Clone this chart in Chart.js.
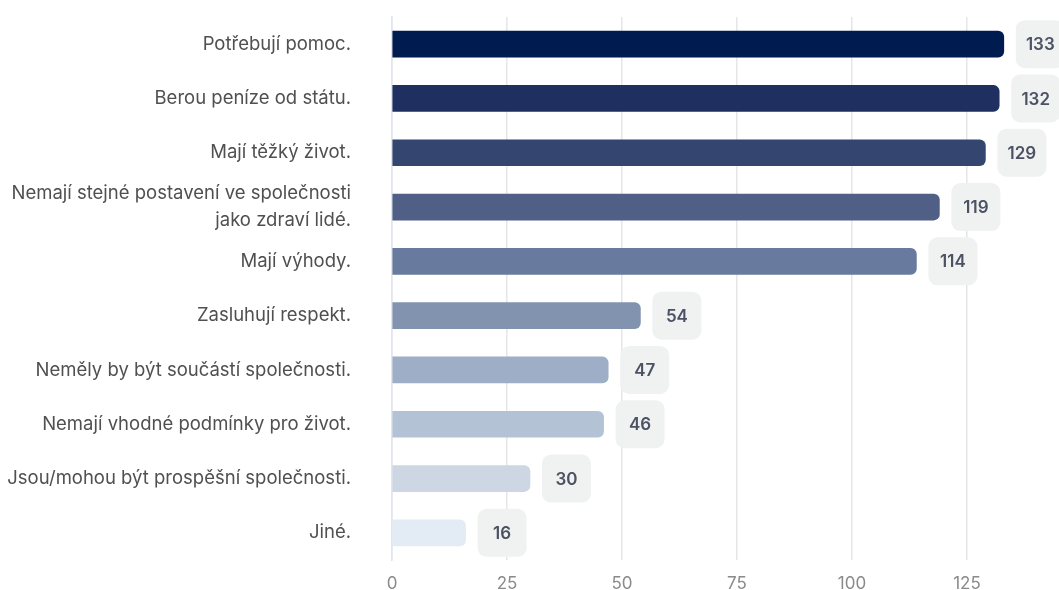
<!DOCTYPE html>
<html>
<head>
<meta charset="utf-8">
<script src="https://cdn.jsdelivr.net/npm/chart.js@4/dist/chart.umd.min.js"></script>
<style>
  body { margin: 0; background: #fff; }
  #wrap { width: 1059px; height: 590px; }
</style>
</head>
<body>
<div id="wrap"><canvas id="chart"></canvas></div>
<script>
var categories = [
  'Potřebují pomoc.',
  'Berou peníze od státu.',
  'Mají těžký život.',
  ['Nemají stejné postavení ve společnosti', 'jako zdraví lidé.'],
  'Mají výhody.',
  'Zasluhují respekt.',
  'Neměly by být součástí společnosti.',
  'Nemají vhodné podmínky pro život.',
  'Jsou/mohou být prospěšní společnosti.',
  'Jiné.'
];
var counts = [133, 132, 129, 119, 114, 54, 47, 46, 30, 16];
var barColors = ['#001b50', '#1f2f5f', '#34466f', '#4f5f86', '#687a9e', '#8293b0', '#9eaec7', '#b4c2d6', '#cdd7e3', '#e3ebf4'];
var xTicks = [0, 25, 50, 75, 100, 125];

// rounded grey boxes with the count, right of each bar
var valueBoxes = {
  id: 'valueBoxes',
  afterDatasetsDraw: function (chart) {
    var ctx = chart.ctx;
    var meta = chart.getDatasetMeta(0);
    ctx.save();
    for (let i = 0; i < meta.data.length; i++) {
      let bar = meta.data[i];
      let left = bar.x + 12;
      let top = bar.y - 24;
      ctx.fillStyle = '#f0f1f1';
      ctx.beginPath();
      ctx.roundRect(left, top, 49, 48, 9);
      ctx.fill();
      ctx.fillStyle = '#4b5263';
      ctx.font = '600 17px Inter';
      ctx.textAlign = 'center';
      ctx.textBaseline = 'middle';
      ctx.fillText(String(counts[i]), left + 24.5, bar.y + 1);
    }
    ctx.restore();
  }
};

var ctx = document.getElementById('chart').getContext('2d');
var myChart = new Chart(ctx, {
  type: 'bar',
  data: {
    labels: categories,
    datasets: [{
      data: counts,
      backgroundColor: barColors,
      barThickness: 26,
      borderRadius: 6,
      borderSkipped: 'start'
    }]
  },
  options: {
    indexAxis: 'y',
    responsive: true,
    maintainAspectRatio: false,
    animation: false,
    layout: { padding: { top: 17, right: 0, left: 0, bottom: 0 } },
    plugins: {
      legend: { display: false },
      tooltip: { enabled: false }
    },
    scales: {
      x: {
        min: 0,
        max: 145,
        afterBuildTicks: function (scale) {
          scale.ticks = xTicks.map(function (v) { return { value: v }; });
        },
        afterFit: function (scale) {
          scale.height = 30;
          scale.paddingLeft = 0;
          scale.paddingRight = 0;
        },
        grid: { color: '#e6e6e6', lineWidth: 1.5, drawTicks: false },
        border: { display: false },
        ticks: { padding: 14, color: '#8a8a8a', font: { family: 'Inter', size: 17 } }
      },
      y: {
        afterFit: function (scale) {
          scale.width = 392;
          scale.paddingTop = 0;
          scale.paddingBottom = 0;
        },
        grid: { display: false, drawTicks: false },
        border: { color: '#dfe4f2', width: 1.5 },
        ticks: { autoSkip: false, padding: 41, color: '#505050', font: { family: 'Inter', size: 18.5, lineHeight: 1.42 } }
      }
    }
  },
  plugins: [valueBoxes]
});
</script>
</body>
</html>
